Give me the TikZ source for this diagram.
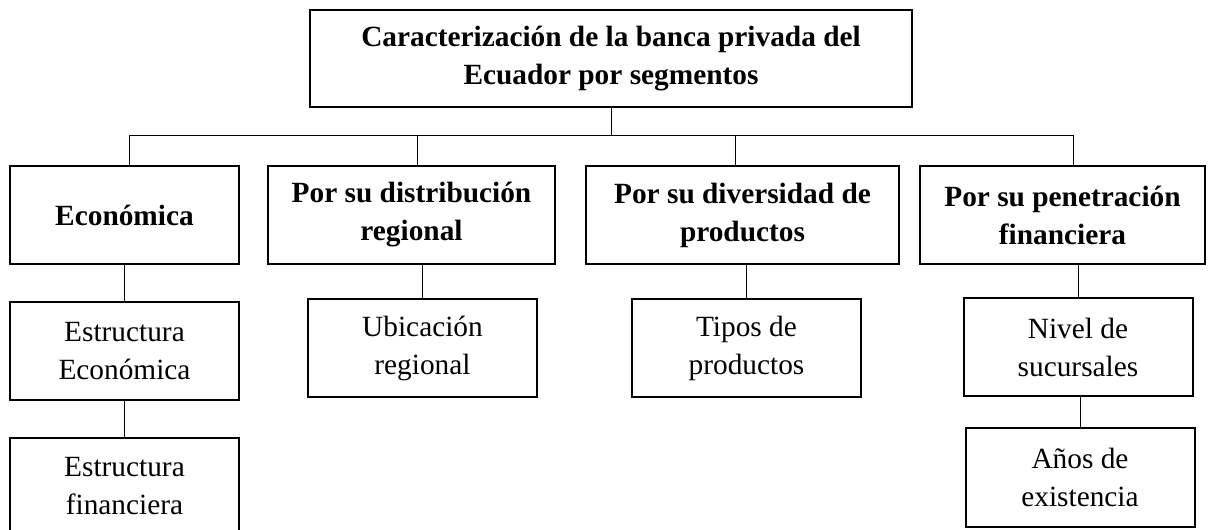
\documentclass[tikz,border=0pt]{standalone}
\usepackage{fontspec}
\setmainfont{Liberation Serif}
\usepackage{tikz}
\usetikzlibrary{positioning}
\tikzset{
  blk/.style  = {draw=black, line width=1.5pt, align=center, inner sep=0pt,
                 font=\fontsize{22}{28.5}\selectfont},
  head/.style = {blk, font=\fontsize{22}{28.5}\selectfont\bfseries,
                 minimum width=451.5pt, minimum height=72.75pt},
  cat/.style  = {blk, font=\fontsize{22}{28.5}\selectfont\bfseries,
                 minimum height=73.5pt},
  item/.style = {blk, minimum width=171.75pt, minimum height=73.5pt},
  link/.style = {draw=black, line width=0.75pt},
}

\begin{document}
\begin{tikzpicture}[x=0.75pt, y=-0.75pt]

  \useasboundingbox (0,0) rectangle (1208,530);

  \node[head] (title) at (611,58.5)
    {Caracterización de la banca privada del\\Ecuador por segmentos};

  \coordinate (hub) at (0,136);

  \node[cat, minimum width=171.75pt] (eco)  at (124.5,215)  {Económica};
  \node[cat, minimum width=215.25pt] (dist) at (411.5,215)  {Por su distribución\\regional};
  \node[cat, minimum width=234.75pt] (div)  at (742.5,215)  {Por su diversidad de\\productos};
  \node[cat, minimum width=213.75pt] (pen)  at (1062.5,215) {Por su penetración\\financiera};

  \node[item] (esteco) at (124.5,351)   {Estructura\\Económica};
  \node[item] (ubic)   at (422.5,348)   {Ubicación\\regional};
  \node[item] (tipos)  at (746.5,348.5) {Tipos de\\productos};
  \node[item] (nivel)  at (1078,347.5)  {Nivel de\\sucursales};

  \node[item, minimum height=72pt]    (estfin) at (124.5,486)  {Estructura\\financiera};
  \node[item, minimum height=74.25pt] (anos)   at (1080,477.5) {Años de\\existencia};

  \draw[link] (title) -- (title |- hub);
  \draw[link] ([xshift=3.5]eco.north |- hub) -- ([xshift=8.5]pen.north |- hub);
  \draw[link] ([xshift=3.5]eco.north) -- ([xshift=3.5]eco.north |- hub);
  \draw[link] ([xshift=4.5]dist.north) -- ([xshift=4.5]dist.north |- hub);
  \draw[link] ([xshift=-5.5]div.north) -- ([xshift=-5.5]div.north |- hub);
  \draw[link] ([xshift=8.5]pen.north) -- ([xshift=8.5]pen.north |- hub);

  \draw[link] (eco) -- (esteco);
  \draw[link] (ubic.north) -- (ubic.north |- dist.south);
  \draw[link] (tipos.north) -- (tipos.north |- div.south);
  \draw[link] (nivel.north) -- (nivel.north |- pen.south);
  \draw[link] (esteco) -- (estfin);
  \draw[link] (anos.north) -- (anos.north |- nivel.south);

\end{tikzpicture}
\end{document}
